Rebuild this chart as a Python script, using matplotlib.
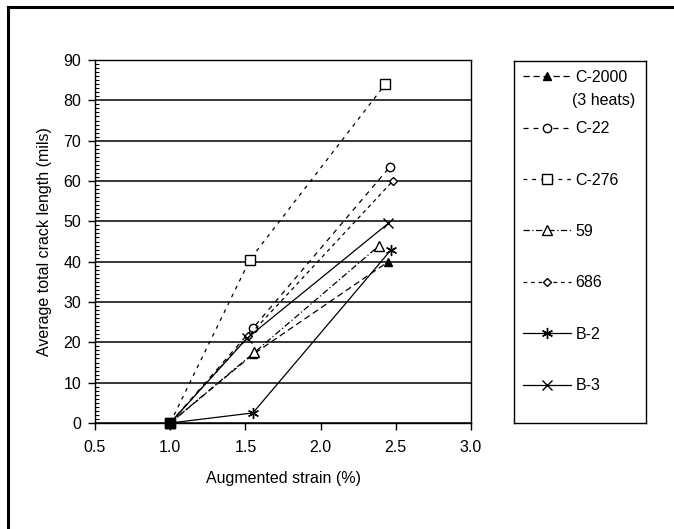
import matplotlib
matplotlib.use("Agg")
import matplotlib.pyplot as plt
from matplotlib.lines import Line2D
from matplotlib.ticker import MultipleLocator

plt.rcParams['font.family'] = ['Liberation Sans', 'DejaVu Sans']
plt.rcParams['font.size'] = 11.5

# data (strain %, crack length mils)
alloys = ['C-2000', 'C-22', 'C-276', '59', '686', 'B-2', 'B-3']
strain = {
    'C-2000': [1.0, 1.55, 2.45],
    'C-22':   [1.0, 1.55, 2.46],
    'C-276':  [1.0, 1.53, 2.43],
    '59':     [1.0, 1.56, 2.39],
    '686':    [1.0, 1.52, 2.48],
    'B-2':    [1.0, 1.55, 2.47],
    'B-3':    [1.0, 1.51, 2.45],
}
crack = {
    'C-2000': [0, 17.0, 40.0],
    'C-22':   [0, 23.5, 63.5],
    'C-276':  [0, 40.5, 84.0],
    '59':     [0, 17.5, 44.0],
    '686':    [0, 21.5, 60.0],
    'B-2':    [0, 2.5, 43.0],
    'B-3':    [0, 21.0, 49.5],
}
x_ticks = [0.5, 1.0, 1.5, 2.0, 2.5, 3.0]
x_labels = ['0.5', '1.0', '1.5', '2.0', '2.5', '3.0']

styles = {
    'C-2000': dict(marker='^', mfc='black', ls=(0, (5, 3)), ms=6),
    'C-22':   dict(marker='o', mfc='white', ls=(0, (4, 4)), ms=6),
    'C-276':  dict(marker='s', mfc='white', ls=(0, (3, 4)), ms=6.5),
    '59':     dict(marker='^', mfc='white', ls=(0, (5, 2, 1, 2)), ms=6.5),
    '686':    dict(marker='D', mfc='white', ls=(0, (3, 3)), ms=4.5),
    'B-2':    dict(marker=(6, 2, 0), mfc='black', ls='-', ms=8),
    'B-3':    dict(marker='x', mfc='black', ls='-', ms=7),
}

fig = plt.figure(figsize=(6.74, 5.29), dpi=100)
W, H = 674, 529
ax = fig.add_axes([95 / W, 1 - 423 / H, 376 / W, 363 / H])

handles = []
for name in alloys:
    st = styles[name]
    ln, = ax.plot(strain[name], crack[name], color='black', lw=0.9,
                  linestyle=st['ls'], marker=st['marker'], ms=st['ms'],
                  mfc=st['mfc'], mec='black', mew=1.0, clip_on=False, zorder=3)
    handles.append(ln)
# solid block where all series start
ax.plot(strain['C-2000'][:1], crack['C-2000'][:1], 's', color='black', ms=7,
        clip_on=False, zorder=4)

ax.set_xlim(0.5, 3.0)
ax.set_ylim(0, 90)
ax.set_xticks(x_ticks)
ax.set_xticklabels(x_labels)
ax.yaxis.set_major_locator(MultipleLocator(10))
ax.yaxis.set_minor_locator(MultipleLocator(1))
ax.tick_params(axis='both', which='major', direction='out', length=5, width=1, pad=5, colors='black')
ax.tick_params(axis='x', which='major', pad=7)
ax.tick_params(axis='y', which='minor', direction='in', length=3, width=0.8)
ax.grid(axis='y', which='major', color='black', lw=1.1)
ax.set_axisbelow(True)
for sp in ax.spines.values():
    sp.set_color('black')
    sp.set_linewidth(1.0)
ax.set_xlabel('Augmented strain (%)', labelpad=12)
ax.set_ylabel('Average total crack length (mils)', labelpad=8)

# legend in its own boxed area
lax = fig.add_axes([514 / W, 1 - 423 / H, 132 / W, 362 / H])
lax.set_xticks([])
lax.set_yticks([])
for sp in lax.spines.values():
    sp.set_linewidth(1.0)
leg = lax.legend(handles, alloys, loc='upper left', frameon=False,
                 handlelength=3.0, handletextpad=0.3, labelspacing=2.28,
                 borderaxespad=0.25, borderpad=0.3)
fig.text(572 / W, 1 - 101 / H, '(3 heats)', ha='left', va='center')

# outer frame (left and top only)
fig.add_artist(Line2D([8 / W, 8 / W], [0, 1 - 7 / H], color='black', lw=2.2))
fig.add_artist(Line2D([8 / W, 1], [1 - 7 / H, 1 - 7 / H], color='black', lw=2.2))

fig.savefig('out.png', dpi=100)
